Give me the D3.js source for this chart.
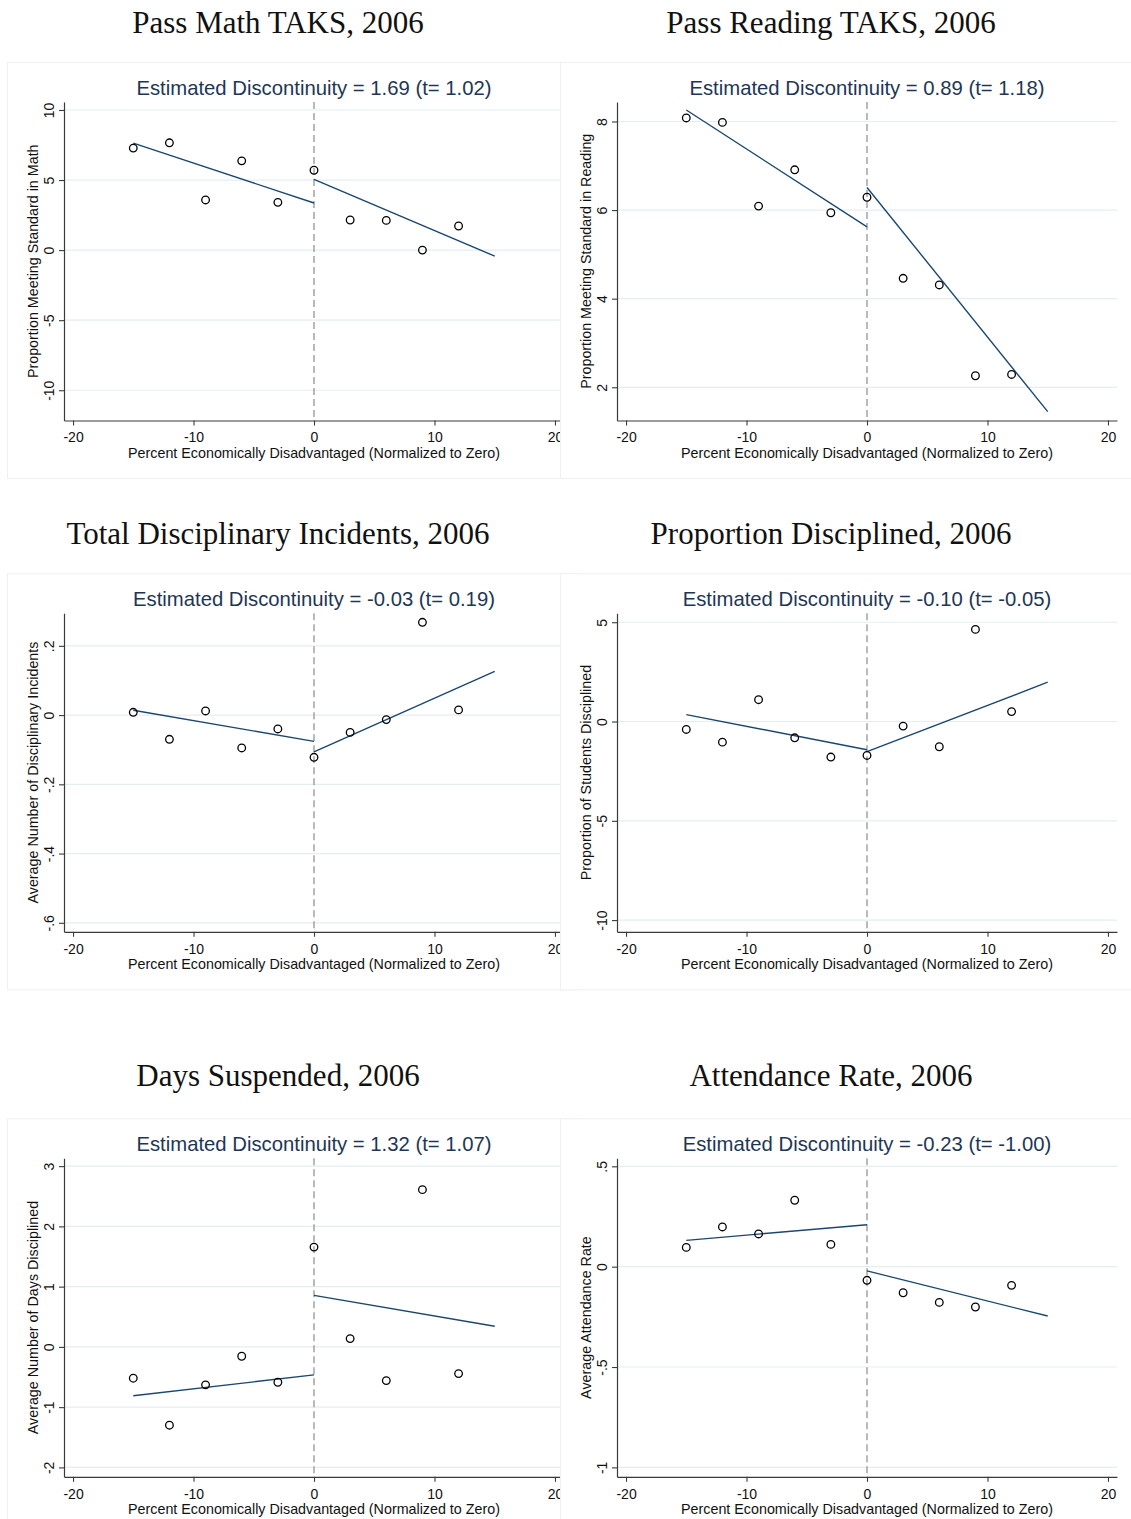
<!DOCTYPE html>
<html>
<head>
<meta charset="utf-8">
<script src="https://cdn.jsdelivr.net/npm/d3@7"></script>
<style>
  html, body { margin: 0; padding: 0; background: #ffffff; }
  svg { display: block; }
</style>
</head>
<body>
<svg id="fig" width="1131" height="1519"></svg>
<script>
// Regression-discontinuity binned means, 2006 outcomes
const binCenters = [-15, -12, -9, -6, -3, 0, 3, 6, 9, 12];
const fitLeftX = [-15, 0];
const fitRightX = [0, 15];
const xTicks = [-20, -10, 0, 10, 20];

// Pass Math TAKS
const mathPass = [7.28, 7.66, 3.58, 6.37, 3.41, 5.70, 2.15, 2.12, 0.00, 1.72];
const mathFitLeft = [7.64, 3.36];
const mathFitRight = [5.05, -0.43];
const mathTicks = [-10, -5, 0, 5, 10];
const mathRange = [-12.16, 10.57];

// Pass Reading TAKS
const readingPass = [8.08, 7.98, 6.09, 6.91, 5.94, 6.29, 4.46, 4.31, 2.26, 2.29];
const readingFitLeft = [8.26, 5.62];
const readingFitRight = [6.51, 1.45];
const readingTicks = [2, 4, 6, 8];
const readingRange = [1.25, 8.44];

// Total disciplinary incidents
const incidents = [0.008, -0.070, 0.012, -0.095, -0.040, -0.122, -0.050, -0.013, 0.268, 0.015];
const incidentsFitLeft = [0.014, -0.076];
const incidentsFitRight = [-0.106, 0.126];
const incidentsTicks = [-0.6, -0.4, -0.2, 0, 0.2];
const incidentsRange = [-0.626, 0.294];

// Proportion disciplined
const propDisciplined = [-0.40, -1.04, 1.10, -0.82, -1.79, -1.71, -0.23, -1.27, 4.64, 0.50];
const propFitLeft = [0.35, -1.42];
const propFitRight = [-1.52, 1.98];
const propTicks = [-10, -5, 0, 5];
const propRange = [-10.59, 5.45];

// Days suspended
const daysSuspended = [-0.52, -1.30, -0.63, -0.155, -0.587, 1.656, 0.138, -0.559, 2.61, -0.443];
const daysFitLeft = [-0.81, -0.465];
const daysFitRight = [0.855, 0.343];
const daysTicks = [-2, -1, 0, 1, 2, 3];
const daysRange = [-2.156, 3.13];

// Attendance rate
const attendance = [0.096, 0.198, 0.163, 0.331, 0.111, -0.068, -0.130, -0.178, -0.201, -0.093];
const attendFitLeft = [0.131, 0.209];
const attendFitRight = [-0.021, -0.246];
const attendTicks = [-1, -0.5, 0, 0.5];
const attendRange = [-1.047, 0.54];

const figTitles = ["Pass Math TAKS, 2006", "Pass Reading TAKS, 2006",
  "Total Disciplinary Incidents, 2006", "Proportion Disciplined, 2006",
  "Days Suspended, 2006", "Attendance Rate, 2006"];
const yTitles = ["Proportion Meeting Standard in Math", "Proportion Meeting Standard in Reading",
  "Average Number of Disciplinary Incidents", "Proportion of Students Disciplined",
  "Average Number of Days Disciplined", "Average Attendance Rate"];
const discEstimates = [1.69, 0.89, -0.03, -0.10, 1.32, -0.23];
const tStats = [1.02, 1.18, 0.19, -0.05, 1.07, -1.00];
const xTitle = "Percent Economically Disadvantaged (Normalized to Zero)";

const series = [mathPass, readingPass, incidents, propDisciplined, daysSuspended, attendance];
const fitsLeft = [mathFitLeft, readingFitLeft, incidentsFitLeft, propFitLeft, daysFitLeft, attendFitLeft];
const fitsRight = [mathFitRight, readingFitRight, incidentsFitRight, propFitRight, daysFitRight, attendFitRight];
const yTickSets = [mathTicks, readingTicks, incidentsTicks, propTicks, daysTicks, attendTicks];
const yRanges = [mathRange, readingRange, incidentsRange, propRange, daysRange, attendRange];

// ---- layout ----
const colX = [7, 560];           // left edge of each graph box
const rowY = [62, 573.3, 1118.3]; // top edge of each graph box
const headBaseline = [33, 544, 1086];
const headCenter = [278, 831];
const boxW = 571, boxH = 416;
const plotL = 57, plotT = 40, plotW = 500, plotH = 318.5;

const navy = "#1a476f";
const sansFont = "'Liberation Sans', Arial, sans-serif";
const serifFont = "'Liberation Serif', 'Times New Roman', serif";

// Stata-style tick labels: plain hyphen, no leading zero
const fmtTick = d => String(d).replace(/^(-?)0\./, "$1.");

const svg = d3.select("#fig");

const panels = d3.range(6).map(i => ({
  col: i % 2, row: Math.floor(i / 2),
  title: figTitles[i], yTitle: yTitles[i],
  values: series[i], fitL: fitsLeft[i], fitR: fitsRight[i],
  ticks: yTickSets[i], range: yRanges[i],
  disc: discEstimates[i], t: tStats[i]
}));

// left column first so the right column boxes sit on top
const order = panels.filter(p => p.col === 0).concat(panels.filter(p => p.col === 1));

order.forEach(p => {
  const ox = colX[p.col], oy = rowY[p.row];

  // heading above each graph
  svg.append("text")
    .attr("x", headCenter[p.col]).attr("y", headBaseline[p.row])
    .attr("text-anchor", "middle")
    .style("font-family", serifFont).style("font-size", "31px")
    .attr("fill", "#111")
    .text(p.title);

  const g = svg.append("g").attr("transform", `translate(${ox},${oy})`);
  g.append("rect")
    .attr("x", 0.5).attr("y", 0.5).attr("width", boxW).attr("height", boxH)
    .attr("fill", "#ffffff").attr("stroke", "#eef0f1").attr("stroke-width", 1);

  const pg = g.append("g").attr("transform", `translate(${plotL},${plotT})`);
  const x = d3.scaleLinear().domain([-20.75, 20.75]).range([0, plotW]);
  const y = d3.scaleLinear().domain(p.range).range([plotH, 0]);

  // horizontal grid lines
  pg.append("g").selectAll("line").data(p.ticks).join("line")
    .attr("x1", 0).attr("x2", plotW)
    .attr("y1", d => y(d)).attr("y2", d => y(d))
    .attr("stroke", "#e4eef2").attr("stroke-width", 1.2);

  // cutoff at zero
  pg.append("line")
    .attr("x1", x(0)).attr("x2", x(0)).attr("y1", 0).attr("y2", plotH)
    .attr("stroke", "#8c8c8c").attr("stroke-width", 1.2)
    .attr("stroke-dasharray", "7,4");

  // fitted lines on each side of the cutoff
  const line = d3.line().x(d => x(d[0])).y(d => y(d[1]));
  pg.append("path").datum(d3.zip(fitLeftX, p.fitL))
    .attr("d", line).attr("fill", "none").attr("stroke", navy).attr("stroke-width", 1.4);
  pg.append("path").datum(d3.zip(fitRightX, p.fitR))
    .attr("d", line).attr("fill", "none").attr("stroke", navy).attr("stroke-width", 1.4);

  // binned means
  pg.append("g").selectAll("circle").data(d3.zip(binCenters, p.values)).join("circle")
    .attr("cx", d => x(d[0])).attr("cy", d => y(d[1])).attr("r", 3.8)
    .attr("fill", "none").attr("stroke", "#000").attr("stroke-width", 1.3);

  // x axis
  const xa = pg.append("g").attr("transform", `translate(0,${plotH})`)
    .call(d3.axisBottom(x).tickValues(xTicks).tickSize(5).tickSizeOuter(0).tickPadding(7)
      .tickFormat(fmtTick));
  // y axis
  const ya = pg.append("g")
    .call(d3.axisLeft(y).tickValues(p.ticks).tickSize(5).tickSizeOuter(0).tickFormat(fmtTick));
  ya.selectAll(".tick text")
    .attr("transform", "rotate(-90)")
    .attr("x", 0).attr("y", -10.5).attr("dy", 0)
    .attr("text-anchor", "middle");

  [xa, ya].forEach(a => {
    a.select(".domain").attr("stroke", "#3a3a3a").attr("stroke-width", 1.2);
    a.selectAll(".tick line").attr("stroke", "#3a3a3a").attr("stroke-width", 1.1);
    a.selectAll(".tick text").attr("fill", "#111")
      .style("font-family", sansFont).style("font-size", "14px");
  });

  // axis titles
  pg.append("text")
    .attr("x", plotW / 2).attr("y", plotH + 37)
    .attr("text-anchor", "middle")
    .style("font-family", sansFont).style("font-size", "14.3px").attr("fill", "#111")
    .text(xTitle);
  pg.append("text")
    .attr("transform", `translate(-26,${plotH / 2}) rotate(-90)`)
    .attr("text-anchor", "middle")
    .style("font-family", sansFont).style("font-size", "14.3px").attr("fill", "#111")
    .text(p.yTitle);

  // estimate heading
  pg.append("text")
    .attr("x", plotW / 2).attr("y", -7.5)
    .attr("text-anchor", "middle")
    .style("font-family", sansFont).style("font-size", "20.3px").attr("fill", "#1e3656")
    .text(`Estimated Discontinuity = ${p.disc.toFixed(2)} (t= ${p.t.toFixed(2)})`);
});
</script>
</body>
</html>
